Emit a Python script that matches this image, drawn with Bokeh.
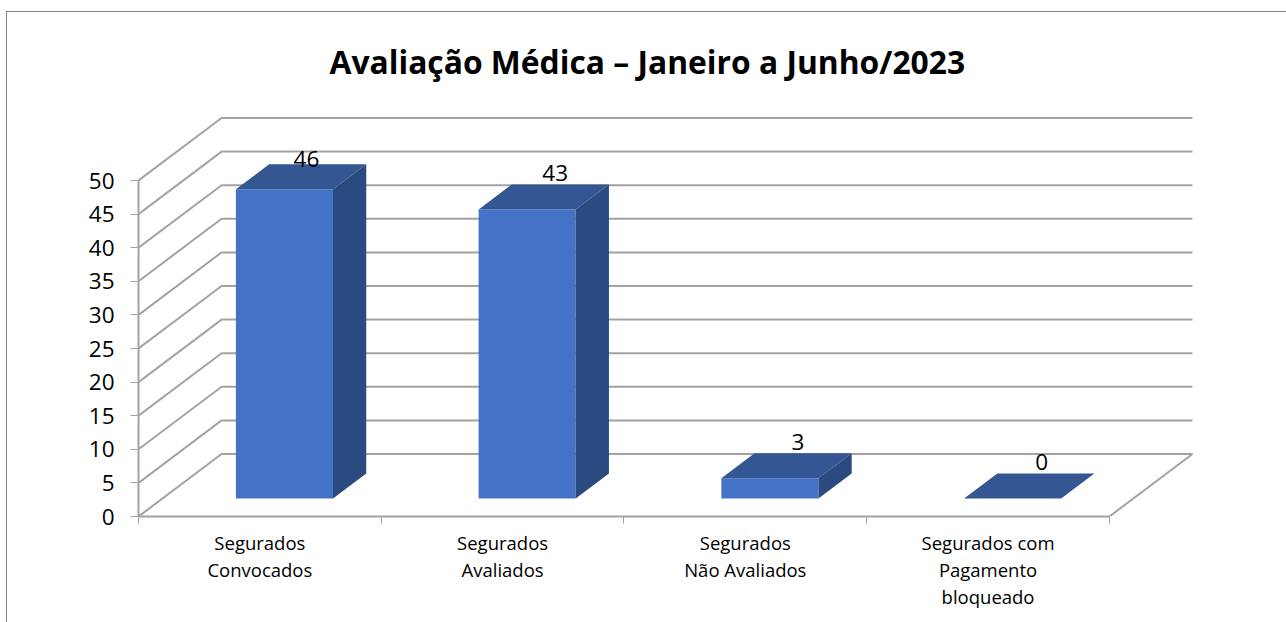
from bokeh.plotting import figure, ColumnDataSource
from bokeh.models import (LinearAxis, FixedTicker, LabelSet, Title, Range1d)
from bokeh.core.properties import value
from bokeh.embed import file_html
from bokeh.resources import INLINE

TITLE = "Avaliação Médica – Janeiro a Junho/2023"
category_lines = [["Segurados", "Convocados"],
                  ["Segurados", "Avaliados"],
                  ["Segurados", "Não Avaliados"],
                  ["Segurados com", "Pagamento", "bloqueado"]]
values = [46, 43, 3, 0]
value_ticks = [0, 5, 10, 15, 20, 25, 30, 35, 40, 45, 50]

PAGE_W, PAGE_H = 1286, 622
BORDER_X, BORDER_Y = 6, 11       # chart border, as a CSS border on the figure
OX, OY = BORDER_X + 1, BORDER_Y + 1
W, H = PAGE_W - OX, PAGE_H - OY
LEFT, BOTTOM, TOP, RIGHT = 138, 515, 107, 1201
PX_X = 242.5     # pixels per category
PX_Y = 6.72      # pixels per value unit
DX = 83 / PX_X   # oblique depth of the chart floor, in data units
DY = 62.5 / PX_Y
NEAR, FAR = 0.29, 0.69
BAR_W = 0.4

FRONT, TOPC, SIDE = "#4472C4", "#345692", "#2B4A80"
GRID = "#A3A3A3"
FONT = "Open Sans"

p = figure(width=W, height=H, output_backend="svg", toolbar_location=None,
           x_range=Range1d(0, (RIGHT - LEFT) / PX_X),
           y_range=Range1d(0, (BOTTOM - TOP) / PX_Y),
           x_axis_type=None, y_axis_type=None,
           min_border_left=LEFT - OX, min_border_right=PAGE_W - RIGHT,
           min_border_top=TOP - OY, min_border_bottom=PAGE_H - BOTTOM)
p.styles = {"position": "absolute", "left": f"{BORDER_X}px", "top": f"{BORDER_Y}px",
            "box-sizing": "content-box",
            "border-left": "1px solid #868686", "border-top": "1px solid #868686"}
p.outline_line_color = None
p.grid.visible = False

p.add_layout(Title(text=TITLE, align="left", offset=191, standoff=51,
                   text_font=FONT, text_font_size="31.8px", text_font_style="bold",
                   text_color="#000000"), "above")

# walls
xs = [[0, DX, 4 + DX] for v in value_ticks]
ys = [[v, v + DY, v + DY] for v in value_ticks]
p.multi_line(xs, ys, line_color=GRID, line_width=2)
p.line([4, 4 + DX], [0, DY], line_color=GRID, line_width=2)

# bars
n = len(values)
x0 = [i + 0.5 - BAR_W / 2 + NEAR * DX + 0.002 for i in range(n)]
x1 = [x + BAR_W for x in x0]
b0 = [NEAR * DY] * n
t0 = [v + NEAR * DY for v in values]
ddx = (FAR - NEAR) * DX
ddy = (FAR - NEAR) * DY

p.patches([[a, b, b, a] for a, b in zip(x0, x1)],
          [[b, b, t, t] for b, t in zip(b0, t0)],
          fill_color=FRONT, line_color=None)
p.patches([[a, b, b + ddx, a + ddx] for a, b in zip(x0, x1)],
          [[t, t, t + ddy, t + ddy] for t in t0],
          fill_color=TOPC, line_color=None)
p.patches([[b, b + ddx, b + ddx, b] for b in x1],
          [[q, q + ddy, t + ddy, t] for q, t in zip(b0, t0)],
          fill_color=SIDE, line_color=None)

# data labels
lab_x_off = [22, 28, 28, 29]
lab_y_off = [30, 36, 36, 36]
bar_centre = [x + BAR_W / 2 for x in x0]
p.add_layout(LabelSet(source=ColumnDataSource(dict(
    x=bar_centre, y=t0, text=[str(v) for v in values],
    xo=lab_x_off, yo=lab_y_off)),
    x="x", y="y", text="text", x_offset="xo", y_offset="yo",
    text_align="center", text_baseline="middle",
    text_font=value(FONT), text_font_size=value("22.5px"), text_color="#000000"))

# axes
ya = LinearAxis(ticker=FixedTicker(ticks=value_ticks), bounds=(0, 50),
                axis_line_color=GRID, axis_line_width=2,
                major_tick_line_color=GRID, major_tick_line_width=1,
                major_tick_out=8, major_tick_in=0, minor_tick_out=0, minor_tick_in=0,
                major_label_standoff=16, major_label_text_font=FONT,
                major_label_text_font_size="22.5px", major_label_text_color="#000000")
p.add_layout(ya, "left")
xa = LinearAxis(ticker=FixedTicker(ticks=list(range(n + 1))), bounds=(0, 4),
                axis_line_color=GRID, axis_line_width=2,
                major_tick_line_color=GRID, major_tick_line_width=1,
                major_tick_out=7, major_tick_in=0, minor_tick_out=0, minor_tick_in=0,
                major_label_standoff=0, major_label_text_font_size="1px",
                major_label_overrides={i: "" for i in range(n + 1)})
p.add_layout(xa, "below")

# category labels: one stacked axis per line of text
for j in range(3):
    ticks = [i + 0.5 for i, lines in enumerate(category_lines) if len(lines) > j]
    over = {i + 0.5: lines[j] for i, lines in enumerate(category_lines) if len(lines) > j}
    ax = LinearAxis(ticker=FixedTicker(ticks=ticks), bounds=(0, 4),
                    axis_line_color=None, major_tick_line_color=None,
                    major_tick_out=0, major_tick_in=0, minor_tick_out=0, minor_tick_in=0,
                    major_label_standoff=6 if j == 0 else -1, major_label_overrides=over,
                    major_label_text_font=FONT, major_label_text_font_size="18.5px",
                    major_label_text_color="#000000")
    p.add_layout(ax, "below")

open("out.html", "w").write(file_html(p, INLINE))
